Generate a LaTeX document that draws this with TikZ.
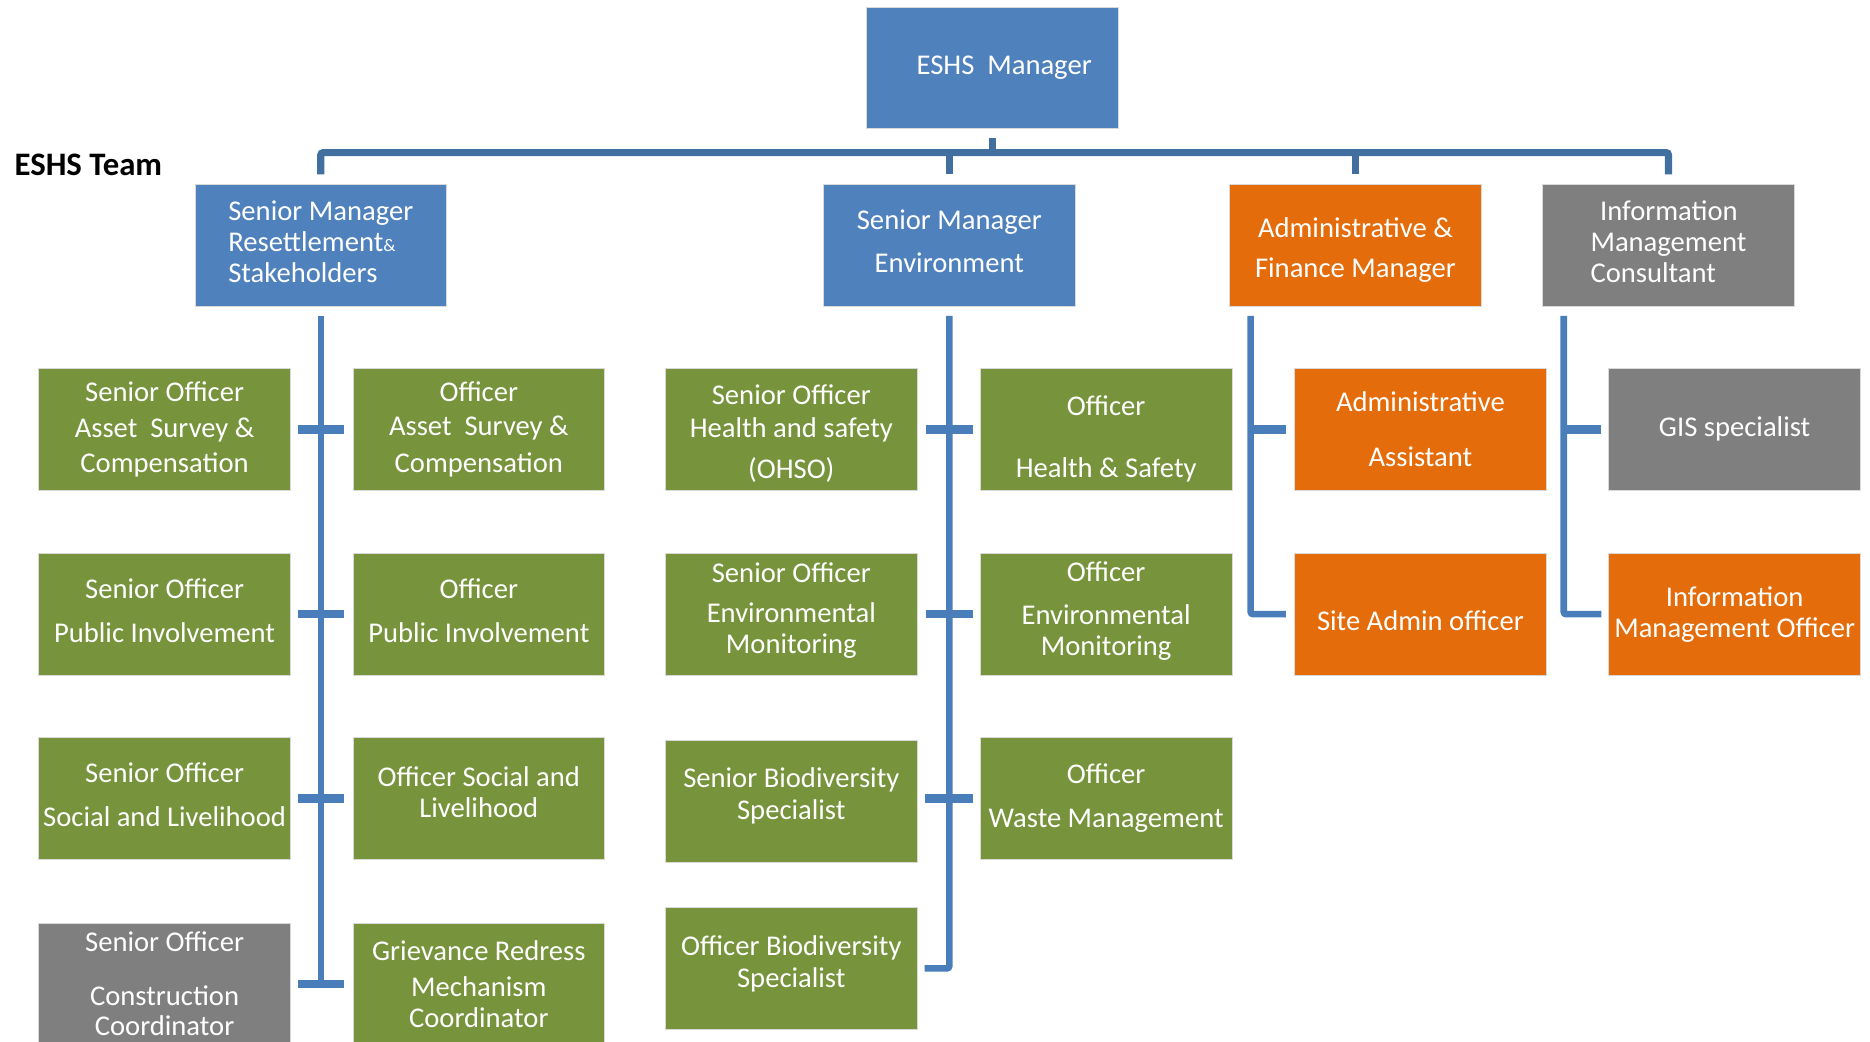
\documentclass[tikz,border=0pt]{standalone}
\usepackage{fontspec}
\setmainfont{Carlito}
\definecolor{cblue}{RGB}{79,129,189}
\definecolor{cgreen}{RGB}{119,147,60}
\definecolor{corange}{RGB}{228,108,10}
\definecolor{cgray}{RGB}{127,127,127}
\definecolor{cbus}{RGB}{65,112,160}
\definecolor{ctrunk}{RGB}{74,126,187}
% invisible struts that move a node's text block down (top strut) or up (bottom strut)
\newcommand{\topstrut}[1]{\rule{0pt}{#1}}
\newcommand{\botstrut}[1]{\rule[-#1]{0pt}{#1}}
\begin{document}
\begin{tikzpicture}[x=1pt,y=-1pt,
 box/.style={rectangle, minimum width=211pt, minimum height=102pt, inner sep=0pt,
   text=white, align=center, font=\fontsize{24}{28}\selectfont,
   draw=white!85!black, line width=0.6pt},
 bluebox/.style={box, fill=cblue},
 greenbox/.style={box, fill=cgreen},
 orangebox/.style={box, fill=corange},
 graybox/.style={box, fill=cgray},
 busline/.style={draw=cbus, line width=6pt, rounded corners=2pt},
 trunk/.style={draw=ctrunk, line width=5.5pt, rounded corners=2pt},
 xbar/.style={draw=ctrunk, line width=7pt},
]
\clip (0,0) rectangle (1568,873);
\fill[white] (0,0) rectangle (1568,873);

% top level
\node[bluebox] (mgr) at (832,57) {\hspace*{20pt}ESHS\ \ Manager};
\node[font=\fontsize{27.5}{30}\selectfont\bfseries, anchor=west, inner sep=0pt, text=black] (team) at (12,138) {ESHS Team};

% second level
\node[bluebox, align=left] (smr) at (269,205.5) {Senior Manager\\[-2pt]Resettlement{\fontsize{15}{15}\selectfont\&}\\[-2pt]Stakeholders\botstrut{6pt}};
\node[bluebox] (sme) at (796,205.5) {Senior Manager\\[8pt]Environment\botstrut{6pt}};
\node[orangebox] (afm) at (1136.5,205.5) {\topstrut{25pt}Administrative \&\\[6pt]Finance Manager};
\node[graybox, align=left] (imc) at (1399,205.5) {\hspace*{8pt}Information\\[-2pt]Management\\[-2pt]Consultant\botstrut{6pt}};

% row 1
\node[greenbox] (a1) at (138,360) {Senior Officer\\[2pt]Asset\ \ Survey \&\\[1pt]Compensation};
\node[greenbox] (b1) at (401.5,360) {Officer\\[1pt]Asset\ \ Survey \&\\[3pt]Compensation};
\node[greenbox] (c1) at (663.5,360) {\topstrut{23pt}Senior Officer\\[0pt]Health and safety\\[6pt](OHSO)};
\node[greenbox] (d1) at (927.5,360) {\topstrut{33pt}Officer\\[24pt]Health \& Safety};
\node[orangebox] (e1) at (1191,360) {Administrative\\[18pt]Assistant};
\node[graybox] (f1) at (1454.5,360) {GIS specialist};

% row 2
\node[greenbox] (a2) at (138,515) {Senior Officer\\[9pt]Public Involvement\botstrut{6pt}};
\node[greenbox] (b2) at (401.5,515) {Officer\\[9pt]Public Involvement\botstrut{6pt}};
\node[greenbox] (c2) at (663.5,515) {Senior Officer\\[6pt]Environmental\\[-2pt]Monitoring\botstrut{10.5pt}};
\node[greenbox] (d2) at (927.5,515) {Officer\\[8pt]Environmental\\[-2pt]Monitoring\botstrut{9.5pt}};
\node[orangebox] (e2) at (1191,515) {\topstrut{27pt}Site Admin officer};
\node[orangebox] (f2) at (1454.5,515) {Information\\[-2pt]Management Officer};

% row 3
\node[greenbox] (a3) at (138,669.5) {Senior Officer\\[9pt]Social and Livelihood\botstrut{6pt}};
\node[greenbox] (b3) at (401.5,669.5) {Officer Social and\\[-2pt]Livelihood\botstrut{10pt}};
\node[greenbox] (c3) at (663.5,672) {Senior Biodiversity\\[-1pt]Specialist\botstrut{13.5pt}};
\node[greenbox] (d3) at (927.5,669.5) {Officer\\[9pt]Waste Management};

% row 4
\node[graybox] (a4) at (138,825) {Senior Officer\\[17pt]Construction\\[-3pt]Coordinator};
\node[greenbox] (b4) at (401.5,825) {Grievance Redress\\[2pt]Mechanism\\[-2pt]Coordinator};
\node[greenbox] (c4) at (663.5,812) {Officer Biodiversity\\[-1pt]Specialist\botstrut{11.5pt}};

% top bus
\coordinate (busy) at (0,128);
\draw[busline] ([yshift=8pt]smr.north) -- (smr.north |- busy) -- (imc.north |- busy) -- ([yshift=8pt]imc.north);
\draw[busline] (sme.north |- busy) -- ([yshift=8pt]sme.north);
\draw[busline] (afm.north |- busy) -- ([yshift=8pt]afm.north);
\draw[busline] ([yshift=-7pt]mgr.south) -- (mgr.south |- busy);

% resettlement branch
\draw[trunk] ([yshift=-8pt]smr.south) -- (smr.south |- a4.east);
\foreach \r in {1,2,3,4}
  \draw[xbar] ([xshift=6pt]a\r.east) -- ([xshift=-7pt]b\r.west);

% environment branch
\draw[trunk] ([yshift=-8pt]sme.south) -- (sme.south |- c4.east) -- ([xshift=6pt]c4.east);
\draw[xbar] ([xshift=7pt]c1.east) -- ([xshift=-6pt]d1.west);
\draw[xbar] ([xshift=7pt]c2.east) -- ([xshift=-6pt]d2.west);
\draw[xbar] ([xshift=-46pt]d3.west) -- ([xshift=-6pt]d3.west);

% admin branch
\coordinate (admtop) at ([xshift=18pt,yshift=-8pt]afm.south west);
\draw[trunk] (admtop) -- (admtop |- e2.west) -- ([xshift=-7pt]e2.west);
\draw[xbar] (admtop |- e1.west) -- ([xshift=-7pt]e1.west);

% information branch
\coordinate (inftop) at ([xshift=18pt,yshift=-8pt]imc.south west);
\draw[trunk] (inftop) -- (inftop |- f2.west) -- ([xshift=-6pt]f2.west);
\draw[xbar] (inftop |- f1.west) -- ([xshift=-6pt]f1.west);
\end{tikzpicture}
\end{document}
